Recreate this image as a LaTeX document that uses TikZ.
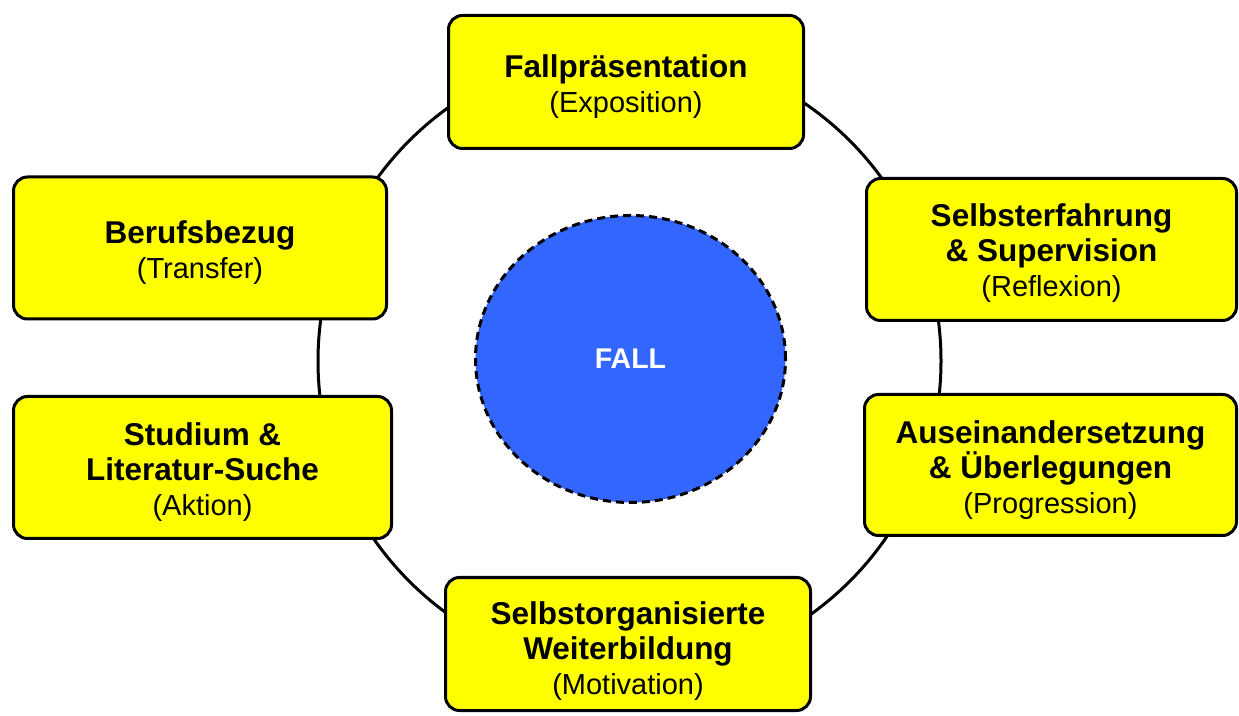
\documentclass[tikz,border=0pt]{standalone}
\usepackage{fontspec}
\setmainfont{Liberation Sans}
\usetikzlibrary{shapes.geometric}
\definecolor{boxyellow}{HTML}{FFFF00}
\definecolor{fallblue}{HTML}{3366FF}
\newcommand{\hd}[1]{{\bfseries\fontsize{31.5}{35}\selectfont #1}}
\begin{document}
\begin{tikzpicture}[x=1pt,y=1pt,
  phasebox/.style={draw=black, line width=3pt, fill=boxyellow, rounded corners=14pt,
    inner sep=0pt},
  phasetext/.style={align=center, inner sep=0pt, font=\fontsize{29}{35}\selectfont},
  ring/.style={draw=black, line width=3pt},
  fallnode/.style={ellipse, draw=black, line width=3pt, dash pattern=on 8pt off 5pt,
    fill=fallblue, inner sep=0pt, text=white, font=\bfseries\fontsize{28.5}{34}\selectfont}]
\useasboundingbox (0,0) rectangle (1239,715);
\coordinate (c) at (629.5,354);
\draw[ring] (c) circle[radius=311.5];
\node[fallnode, minimum width=310pt, minimum height=287pt] (fall) at (630.5,356) {FALL};
\node[phasebox, minimum width=355pt, minimum height=133pt] (top) at (626,633) {};
\node[phasebox, minimum width=370pt, minimum height=142pt] (rt) at (1051.5,465.5) {};
\node[phasebox, minimum width=372pt, minimum height=141pt] (rb) at (1050.5,250) {};
\node[phasebox, minimum width=373pt, minimum height=142pt] (lt) at (200,467) {};
\node[phasebox, minimum width=378pt, minimum height=142pt] (lb) at (202.5,247.5) {};
\node[phasebox, minimum width=365pt, minimum height=133pt] (bot) at (628,71) {};
\node[phasetext] (topt) at ([yshift=-5pt]top.center) {\hd{Fallpräsentation}\\(Exposition)};
\node[phasetext] (rtt) at ([yshift=-4pt]rt.center) {\hd{Selbsterfahrung}\\\hd{\& Supervision}\\(Reflexion)};
\node[phasetext] (rbt) at ([yshift=-5pt]rb.center) {\hd{Auseinandersetzung}\\\hd{\& Überlegungen}\\(Progression)};
\node[phasetext] (ltt) at ([yshift=-5pt]lt.center) {\hd{Berufsbezug}\\(Transfer)};
\node[phasetext] (lbt) at ([yshift=-5pt]lb.center) {\hd{Studium \&}\\\hd{Literatur-Suche}\\(Aktion)};
\node[phasetext] (bott) at ([yshift=-7pt]bot.center) {\hd{Selbstorganisierte}\\\hd{Weiterbildung}\\(Motivation)};
\end{tikzpicture}
\end{document}
